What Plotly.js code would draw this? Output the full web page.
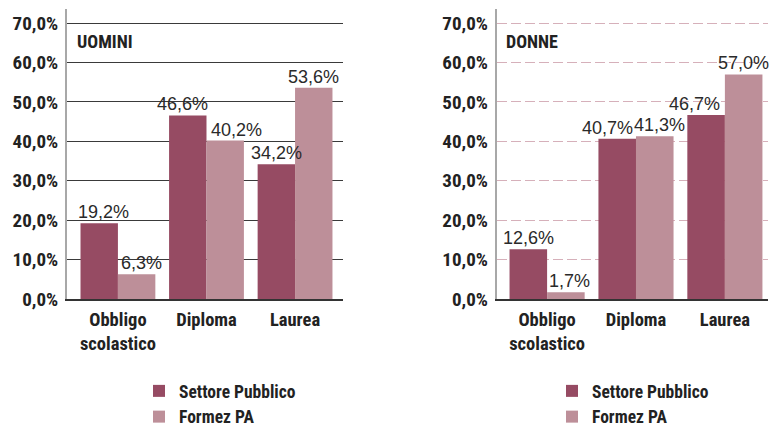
<!DOCTYPE html>
<html><head><meta charset="utf-8">
<script src="https://cdn.plot.ly/plotly-3.0.1.min.js"></script>
<style>body{margin:0;background:#fff}#chart{width:770px;height:426px}</style>
</head><body><div id="chart"></div>
<script>
const categories = ["Obbligo<br>scolastico", "Diploma", "Laurea"];
const seriesNames = ["Settore Pubblico", "Formez PA"];
const uominiPubblico = [19.2, 46.6, 34.2];
const uominiFormez = [6.3, 40.2, 53.6];
const donnePubblico = [12.6, 40.7, 46.7];
const donneFormez = [1.7, 41.3, 57.0];
const yTickVals = [0, 10, 20, 30, 40, 50, 60, 70];
const yTickText = ["0,0%", "10,0%", "20,0%", "30,0%", "40,0%", "50,0%", "60,0%", "70,0%"];
const panelTitles = ["UOMINI", "DONNE"];

// styling (not data): colours, fonts, small horizontal nudges of value labels (px)
const colPub = "#964b63", colFor = "#bd8f99";
const BOLD = "'Roboto Condensed', 'Liberation Sans', sans-serif";
const LIGHT = "'Liberation Sans', sans-serif";
const labelNudge = {
  uominiPubblico: [4, -5, 0], uominiFormez: [5, 11, 0],
  donnePubblico: [0, -10, -12], donneFormez: [4, 5, 0]
};
const halfBar = 18.7;

function bar(y, name, color, xa, ya, legend) {
  return {
    type: "bar", x: categories, y: y, name: name, xaxis: xa, yaxis: ya,
    marker: {color: color, line: {width: 0}},
    legend: legend, showlegend: true, hoverinfo: "skip"
  };
}

const data = [
  bar(uominiPubblico, seriesNames[0], colPub, "x", "y", "legend"),
  bar(uominiFormez, seriesNames[1], colFor, "x", "y", "legend"),
  bar(donnePubblico, seriesNames[0], colPub, "x2", "y2", "legend2"),
  bar(donneFormez, seriesNames[1], colFor, "x2", "y2", "legend2")
];

const fmt = v => v.toFixed(1).replace(".", ",") + "%";
function valueLabels(vals, nudges, xref, yref, side) {
  return vals.map((v, i) => ({
    text: fmt(v), x: categories[i], y: v, xref: xref, yref: yref,
    xanchor: "center", yanchor: "bottom", showarrow: false,
    xshift: side * halfBar + nudges[i], yshift: -1,
    font: {family: LIGHT, size: 18, color: "#2a2a2a"}
  }));
}

const tickFont = {family: BOLD, size: 19, color: "#222", weight: "bold"};
const catFont = {family: BOLD, size: 18.5, color: "#222", weight: "bold"};
function yax(anchor, gridcolor, dash) {
  return {
    anchor: anchor, range: [0, 73.5], domain: [1 - 299/426, 1 - 9.4/426],
    tickvals: yTickVals, ticktext: yTickText, tickfont: tickFont,
    showgrid: true, gridcolor: gridcolor, gridwidth: 1, griddash: dash,
    showline: true, linecolor: "#a8a8a8", linewidth: 2, ticks: "", ticklen: 0,
    zeroline: false, fixedrange: true, ticklabelstandoff: 3, automargin: false
  };
}
function xax(anchor, dom, rng) {
  return {
    anchor: anchor, domain: dom, range: rng, type: "category",
    showline: true, linecolor: "#333", linewidth: 1.5, ticks: "",
    tickfont: catFont, showgrid: false, zeroline: false, fixedrange: true,
    ticklabelstandoff: 3, automargin: false
  };
}
const legendFont = {family: BOLD, size: 17.5, color: "#222", weight: "bold"};

const layout = {
  width: 770, height: 426, margin: {l: 0, r: 0, t: 0, b: 0, autoexpand: false},
  paper_bgcolor: "#fff", plot_bgcolor: "rgba(0,0,0,0)",
  separators: ",.",
  barmode: "group", bargap: 0.155, bargroupgap: 0,
  xaxis: xax("y", [67/770, 342.7/770], [-0.575, 2.538]),
  yaxis: yax("x", "#3a3a3a", "solid"),
  xaxis2: xax("y2", [496.7/770, 768/770], [-0.567, 2.485]),
  yaxis2: yax("x2", "#d6b0ba", "10px,4px"),
  legend: {x: 139/770, y: 1 - 373/426, xanchor: "left", yanchor: "top",
    font: legendFont, bgcolor: "rgba(0,0,0,0)", traceorder: "normal", tracegroupgap: 0},
  legend2: {x: 552/770, y: 1 - 373/426, xanchor: "left", yanchor: "top",
    font: legendFont, bgcolor: "rgba(0,0,0,0)", traceorder: "normal", tracegroupgap: 0},
  annotations: [
    {text: panelTitles[0], xref: "paper", yref: "paper", x: 75/770, y: 1 - 41.5/426,
     xanchor: "left", yanchor: "middle", showarrow: false,
     font: {family: BOLD, size: 18, color: "#222", weight: "bold"}},
    {text: panelTitles[1], xref: "paper", yref: "paper", x: 504/770, y: 1 - 41.5/426,
     xanchor: "left", yanchor: "middle", showarrow: false,
     font: {family: BOLD, size: 18, color: "#222", weight: "bold"}}
  ].concat(
    valueLabels(uominiPubblico, labelNudge.uominiPubblico, "x", "y", -1),
    valueLabels(uominiFormez, labelNudge.uominiFormez, "x", "y", 1),
    valueLabels(donnePubblico, labelNudge.donnePubblico, "x2", "y2", -1),
    valueLabels(donneFormez, labelNudge.donneFormez, "x2", "y2", 1)
  )
};

Plotly.newPlot("chart", data, layout, {staticPlot: true, displayModeBar: false});
</script></body></html>
